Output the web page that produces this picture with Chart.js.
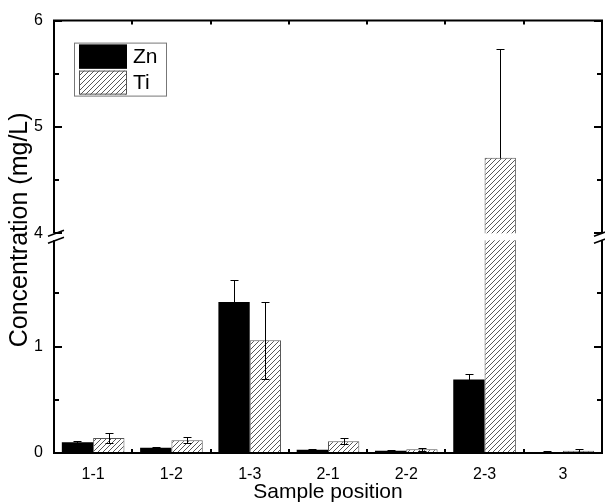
<!DOCTYPE html>
<html>
<head>
<meta charset="utf-8">
<script src="https://cdn.jsdelivr.net/npm/chart.js@4/dist/chart.umd.min.js"></script>
<style>
    html, body { margin: 0; padding: 0; background: #fff; }
    #wrap { width: 605px; height: 504px; }
</style>
</head>
<body>
<div id="wrap"><canvas id="chart" width="605" height="504"></canvas></div>
<script>
// ---- Data ----

const CATEGORIES = ['1-1', '1-2', '1-3', '2-1', '2-2', '2-3', '3'];
const ZN = [0.10, 0.05, 1.42, 0.03, 0.02, 0.69, 0.01];
const ZN_ERR = [0.01, 0.01, 0.21, 0.01, 0.005, 0.05, 0.005];
const TI = [0.14, 0.12, 1.06, 0.11, 0.035, 4.71, 0.022];
const TI_ERR = [0.05, 0.03, 0.36, 0.03, 0.015, 1.02, 0.013];

const Y_TICKS = [0, 1, 4, 5, 6];
const Y_MINOR = [0.5, 1.5, 4.5, 5.5];
// axis break: 0..LOW_MAX below, HIGH_MIN..HIGH_MAX above
const LOW_MAX = 2;
const HIGH_MIN = 4;
const HIGH_MAX = 6;
const BREAK_GAP = 7;

const FONT = "'Liberation Sans', Arial, sans-serif";

// ---- Broken linear scale ----

class BrokenLinearScale extends Chart.LinearScale {
    buildTicks() {
        return Y_TICKS.map(v => ({ value: v }));
    }
    segHeight() {
        return (this.bottom - this.top - BREAK_GAP) / 2;
    }
    getPixelForValue(value) {
        const h = this.segHeight();
        if (value <= LOW_MAX) return this.bottom - (value / LOW_MAX) * h;
        if (value >= HIGH_MIN) return this.top + (HIGH_MAX - value) / (HIGH_MAX - HIGH_MIN) * h;
        const t = (value - LOW_MAX) / (HIGH_MIN - LOW_MAX);
        return this.bottom - h - t * BREAK_GAP;
    }
    getValueForPixel(pixel) {
        const h = this.segHeight();
        if (pixel >= this.bottom - h) return (this.bottom - pixel) / h * LOW_MAX;
        if (pixel <= this.top + h) return HIGH_MAX - (pixel - this.top) / h * (HIGH_MAX - HIGH_MIN);
        const t = (this.bottom - h - pixel) / BREAK_GAP;
        return LOW_MAX + t * (HIGH_MIN - LOW_MAX);
    }
}
BrokenLinearScale.id = 'brokenLinear';
BrokenLinearScale.defaults = Chart.LinearScale.defaults;
Chart.register(BrokenLinearScale);

// ---- Hatch fill ----

function hatchPattern() {
    const c = document.createElement('canvas');
    c.width = 5;
    c.height = 5;
    const g = c.getContext('2d');
    g.fillStyle = '#fff';
    g.fillRect(0, 0, 5, 5);
    g.strokeStyle = '#444';
    g.lineWidth = 0.9;
    g.beginPath();
    g.moveTo(0, 5); g.lineTo(5, 0);
    g.moveTo(-1, 1); g.lineTo(1, -1);
    g.moveTo(4, 6); g.lineTo(6, 4);
    g.stroke();
    return g.createPattern(c, 'repeat');
}

// ---- Frame, break, error bars, legend ----

const frameplugin = {
    id: 'frame',
    afterDatasetsDraw(chart) {
        const { ctx, chartArea: a, scales: { x, y } } = chart;
        const yHi = y.getPixelForValue(HIGH_MIN);
        const yLo = y.getPixelForValue(LOW_MAX);
        ctx.save();

        // cut the gap out of tall bars
        ctx.fillStyle = '#fff';
        ctx.fillRect(a.left, yHi, a.right - a.left, yLo - yHi);

        // error bars
        ctx.strokeStyle = '#000';
        ctx.lineWidth = 1;
        chart.data.datasets.forEach((ds, i) => {
            chart.getDatasetMeta(i).data.forEach((bar, j) => {
                const v = ds.data[j], e = ds.errors[j];
                let lo = v - e;
                if (v >= HIGH_MIN && lo < HIGH_MIN) lo = v;
                const bx = Math.round(bar.x) + 0.5;
                const yt = Math.round(y.getPixelForValue(v + e)) + 0.5;
                const yb = Math.round(y.getPixelForValue(lo)) + 0.5;
                ctx.beginPath();
                ctx.moveTo(bx, yt); ctx.lineTo(bx, yb);
                ctx.moveTo(bx - 4, yt); ctx.lineTo(bx + 4, yt);
                if (lo !== v) { ctx.moveTo(bx - 4, yb); ctx.lineTo(bx + 4, yb); }
                ctx.stroke();
            });
        });

        // axes frame with break
        ctx.strokeStyle = '#000';
        ctx.lineWidth = 2;
        ctx.beginPath();
        ctx.moveTo(a.left, a.top); ctx.lineTo(a.right, a.top);
        ctx.moveTo(a.left, a.bottom); ctx.lineTo(a.right, a.bottom);
        [a.left, a.right].forEach(ax => {
            ctx.moveTo(ax, a.top - 1); ctx.lineTo(ax, yHi);
            ctx.moveTo(ax, yLo); ctx.lineTo(ax, a.bottom + 1);
        });
        ctx.stroke();

        // break marks
        ctx.lineWidth = 1.5;
        ctx.beginPath();
        [a.left + 2, a.right].forEach(ax => {
            [yHi, yLo].forEach(by => {
                ctx.moveTo(ax - 8, by + 3);
                ctx.lineTo(ax + 8, by - 3);
            });
        });
        ctx.stroke();

        // y ticks (inward)
        ctx.lineWidth = 2;
        ctx.beginPath();
        const yTick = (v, len) => {
            const py = Math.round(y.getPixelForValue(v));
            ctx.moveTo(a.left, py); ctx.lineTo(a.left + len, py);
            ctx.moveTo(a.right, py); ctx.lineTo(a.right - len, py);
        };
        Y_TICKS.forEach(v => yTick(v, 8));
        Y_MINOR.forEach(v => yTick(v, 5));

        // x ticks between categories, top and bottom
        for (let i = 0; i < CATEGORIES.length - 1; i++) {
            const px = Math.round((x.getPixelForValue(i) + x.getPixelForValue(i + 1)) / 2);
            ctx.moveTo(px, a.top); ctx.lineTo(px, a.top + 4);
            ctx.moveTo(px, a.bottom); ctx.lineTo(px, a.bottom - 4);
        }
        ctx.stroke();

        // legend
        const lx = a.left + 20, ly = a.top + 22;
        ctx.lineWidth = 1;
        ctx.strokeStyle = '#777';
        ctx.strokeRect(lx + 0.5, ly + 0.5, 92, 53);
        ctx.font = '21px ' + FONT;
        ctx.textBaseline = 'middle';
        ctx.textAlign = 'left';
        chart.data.datasets.forEach((ds, i) => {
            const sy = ly + 2 + i * 26;
            ctx.fillStyle = ds.backgroundColor;
            ctx.fillRect(lx + 5, sy, 48, 24);
            ctx.strokeStyle = ds.borderColor;
            ctx.strokeRect(lx + 5.5, sy + 0.5, 47, 23);
            ctx.fillStyle = '#000';
            ctx.fillText(ds.label, lx + 59, sy + 13);
        });
        ctx.restore();
    }
};

// ---- Chart ----

Chart.defaults.font.family = FONT;
Chart.defaults.color = '#000';

new Chart(document.getElementById('chart'), {
    type: 'bar',
    data: {
        labels: CATEGORIES,
        datasets: [
            { label: 'Zn', data: ZN, errors: ZN_ERR, backgroundColor: '#000', borderColor: '#000', borderWidth: 0 },
            { label: 'Ti', data: TI, errors: TI_ERR, backgroundColor: hatchPattern(), borderColor: '#555', borderWidth: 1 }
        ]
    },
    options: {
        responsive: false,
        animation: false,
        devicePixelRatio: 1,
        events: [],
        categoryPercentage: 0.8,
        barPercentage: 1,
        layout: { padding: { top: 19, right: 3, left: 0, bottom: 0 } },
        plugins: { legend: { display: false }, tooltip: { enabled: false } },
        scales: {
            x: {
                type: 'category',
                offset: true,
                grid: { display: false, drawTicks: false },
                border: { display: false },
                ticks: { font: { size: 16 }, padding: 12, autoSkip: false, maxRotation: 0 },
                title: { display: true, text: 'Sample position', font: { size: 21, lineHeight: 1 }, padding: { top: 0, bottom: 1 } },
                afterFit: s => { s.height = 51; }
            },
            y: {
                type: 'brokenLinear',
                min: 0,
                max: HIGH_MAX,
                grid: { display: false, drawTicks: false },
                border: { display: false },
                ticks: { font: { size: 16 }, padding: 11, callback: v => String(v) },
                title: { display: true, text: '  Concentration (mg/L)', font: { size: 25, lineHeight: 1 }, padding: { top: 8, bottom: 0 } },
                afterFit: s => { s.width = 54; }
            }
        }
    },
    plugins: [frameplugin]
});
</script>
</body>
</html>
